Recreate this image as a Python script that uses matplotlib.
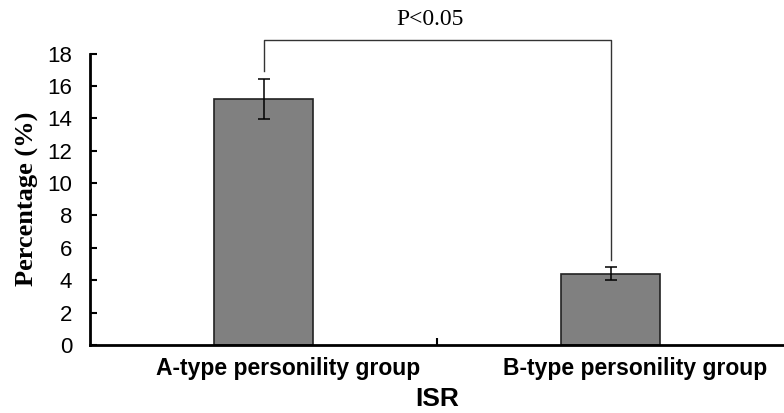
import matplotlib.pyplot as plt
import numpy as np

# data
groups = ['A-type personility group', 'B-type personility group']
percent = [15.2, 4.4]
err = [1.25, 0.4]
yticks = [0, 2, 4, 6, 8, 10, 12, 14, 16, 18]
p_text = 'P<0.05'
bracket_y = 18.85
bracket_ends = [16.95, 5.25]

fig = plt.figure(figsize=(7.84, 4.13), dpi=100)
ax = fig.add_axes([0.115, 0.165, 0.885, 0.705])

x = np.arange(len(groups))
ax.bar(x, percent, width=0.285, color='#808080', edgecolor='#222222', linewidth=1.2,
       yerr=err, capsize=4, error_kw=dict(ecolor='black', elinewidth=1.1, capthick=1.1))

ax.set_xlim(-0.5, 1.5)
ax.set_ylim(0, 18)
ax.set_yticks(yticks)
# the labels sit a bit right of the bars in the original
ax.set_xticks(x + 0.072)
ax.set_xticklabels(groups, fontsize=16.5, fontweight='bold', family='Liberation Sans')
ax.set_xticks([0.5], minor=True)
ax.tick_params(axis='x', which='major', length=0, pad=9)
ax.tick_params(axis='x', which='minor', direction='in', length=5, width=1.5)
ax.tick_params(axis='y', direction='in', length=5, width=1.5, pad=13, labelsize=16)
for lab in ax.get_yticklabels():
    lab.set_family('Liberation Sans')

for s in ['top', 'right']:
    ax.spines[s].set_visible(False)
for s in ['left', 'bottom']:
    ax.spines[s].set_linewidth(2)

ax.set_ylabel('Percentage (%)', fontsize=19, fontweight='bold', family='Liberation Serif', labelpad=6)
ax.set_xlabel('ISR', fontsize=19, fontweight='bold', family='Liberation Sans', labelpad=5)

# significance bracket
ax.plot([x[0], x[0], x[1], x[1]], [bracket_ends[0], bracket_y, bracket_y, bracket_ends[1]],
        color='#333333', linewidth=1, clip_on=False)
ax.text(0.48, bracket_y + 0.6, p_text, ha='center', va='bottom', fontsize=17,
        family='Liberation Serif', clip_on=False)

fig.savefig('out.png', dpi=100)
